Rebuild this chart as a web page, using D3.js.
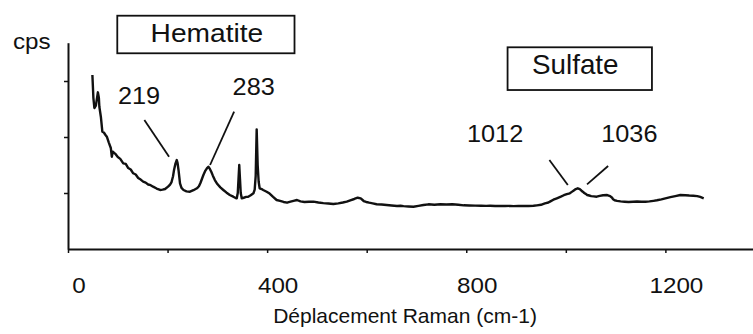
<!DOCTYPE html>
<html>
<head>
<meta charset="utf-8">
<script src="https://cdn.jsdelivr.net/npm/d3@7"></script>
<style>
  html, body { margin: 0; padding: 0; background: #fff; }
  svg { display: block; }
  text { font-family: "Liberation Sans", Arial, Helvetica, sans-serif; fill: #111; }
</style>
</head>
<body>
<svg id="chart" width="753" height="334"></svg>
<script>
// ---- data (Raman shift in cm-1, intensity in arbitrary cps units) ----
const shift = [49, 51, 53, 56, 60, 62, 63, 66, 69, 72, 75, 78, 82, 86, 88, 90, 95, 100, 105, 111, 116, 121, 126, 131, 136, 141, 146, 151, 156, 161, 166, 171, 178, 185, 190, 195, 201, 205, 208, 211, 213, 216, 218.5, 220, 222, 225, 228, 232, 238, 245, 252, 259, 263, 266, 269, 272, 276, 279, 282, 285, 288, 291, 295, 300, 306, 312, 318, 325, 332, 336, 339, 341, 342.5, 344, 345.5, 347, 349, 353, 358, 362, 367, 372.5, 375, 377, 379, 381, 383, 385, 389, 392, 399, 405, 412, 419, 426, 433, 440, 447, 453, 460, 467, 475, 484, 493, 503, 513, 523, 533, 543, 552, 560, 567, 575, 582, 588, 594, 599, 605, 612, 620, 630, 640, 650, 661, 668, 674, 684, 694, 704, 714, 724, 736, 748, 760, 772, 784, 795, 806, 818, 830, 840, 848, 858, 868, 878, 888, 895, 905, 915, 925, 935, 942, 950, 958, 965, 969, 975, 982, 990, 996, 1002, 1008, 1012, 1016, 1020, 1024, 1028, 1031, 1034, 1037, 1040, 1043, 1047, 1051, 1056, 1062, 1068, 1075, 1083, 1089, 1093, 1095, 1098, 1103, 1110, 1118, 1126, 1135, 1143, 1152, 1160, 1168, 1176, 1183, 1192, 1200, 1210, 1220, 1230, 1240, 1248, 1256, 1264, 1270, 1277, 1284, 1290, 1297, 1304];
const cps = [3107, 2700, 2518, 2560, 2798, 2700, 2541, 2362, 2095, 2080, 2040, 2005, 1900, 1804, 1648, 1738, 1700, 1643, 1610, 1530, 1520, 1446, 1420, 1352, 1330, 1268, 1240, 1202, 1185, 1152, 1140, 1113, 1080, 1054, 1060, 1071, 1113, 1150, 1196, 1300, 1411, 1530, 1589, 1540, 1411, 1173, 1090, 1054, 1030, 1023, 1050, 1084, 1120, 1179, 1250, 1321, 1400, 1440, 1470, 1430, 1375, 1310, 1232, 1160, 1100, 1054, 1010, 965, 934, 915, 905, 1000, 1250, 1500, 1250, 1000, 905, 915, 930, 934, 960, 995, 1060, 1300, 2137, 1500, 1200, 1084, 1070, 1054, 1023, 990, 930, 875, 860, 840, 827, 845, 860, 875, 850, 840, 845, 845, 830, 820, 812, 804, 815, 830, 845, 870, 893, 916, 905, 857, 840, 827, 815, 800, 795, 786, 778, 768, 772, 765, 760, 755, 770, 785, 798, 790, 800, 795, 798, 790, 780, 778, 775, 773, 770, 772, 768, 770, 768, 770, 766, 770, 768, 768, 772, 780, 790, 816, 830, 850, 880, 905, 935, 960, 980, 995, 1020, 1045, 1070, 1084, 1070, 1045, 1023, 1000, 985, 964, 955, 945, 940, 934, 948, 960, 964, 945, 915, 887, 870, 860, 850, 845, 840, 845, 848, 845, 845, 850, 860, 870, 887, 905, 925, 945, 964, 960, 955, 952, 945, 930, 905];

const xTickValues = [0, 200, 400, 600, 800, 1000, 1200];
const xTickLabels = ["0", "", "400", "", "800", "", "1200"];
const yTickValues = [1000, 2000, 3000];

const xTitle = "Déplacement Raman (cm-1)";
const yTitle = "cps";

// annotations: label text, label anchor (shift, cps), leader line from/to (shift, cps)
const annLabels = ["219", "283", "1012", "1036"];
const annLabelShift = [142.7, 373, 858, 1127.6];
const annLabelCps = [2584, 2750, 1905, 1905];
const annLineFromShift = [153.4, 333.7, 967, 1085];
const annLineFromCps = [2304, 2452, 1589, 1482];
const annLineToShift = [203, 285.4, 1004, 1042.6];
const annLineToCps = [1648, 1500, 1143, 1155];

// boxed region labels
const boxLabels = ["Hematite", "Sulfate"];
const boxShift0 = [99, 883];
const boxShift1 = [455, 1173];
const boxCpsTop = [4166, 3602];
const boxCpsBottom = [3495, 2839];
const boxTextShift = [279, 1019];
const boxTextCps = [3702, 3120];

// ---- drawing ----
const svg = d3.select("#chart");
const x = d3.scaleLinear().domain([0, 1376]).range([68, 753]);
const y = d3.scaleLinear().domain([0, 3684]).range([249, 42.7]);

function stretchedText(g, str, px, py, size, sx) {
  return g.append("text")
    .attr("transform", `translate(${px},${py}) scale(${sx},1)`)
    .attr("text-anchor", "middle")
    .style("font-size", size + "px")
    .text(str);
}

// axes
const xAxis = d3.axisBottom(x).tickValues(xTickValues).tickSize(4).tickSizeOuter(0).tickFormat(() => "");
const gx = svg.append("g").attr("transform", `translate(0,${y(0)})`).call(xAxis);
gx.select(".domain").attr("stroke", "#111").attr("stroke-width", 2);
gx.selectAll(".tick line").attr("stroke", "#111").attr("stroke-width", 1.5);

const yAxis = d3.axisLeft(y).tickValues(yTickValues).tickSize(4).tickSizeOuter(0).tickFormat(() => "");
const gy = svg.append("g").attr("transform", `translate(${x(0)},0)`).call(yAxis);
gy.select(".domain").attr("stroke", "#111").attr("stroke-width", 2);
gy.selectAll(".tick line").attr("stroke", "#111").attr("stroke-width", 1.5);

// x tick labels (shifted as in the original)
xTickValues.forEach((v, i) => {
  if (xTickLabels[i]) stretchedText(svg, xTickLabels[i], x(v) + 11, 293, 22, 1.1);
});

// titles
stretchedText(svg, xTitle, 405, 323, 21, 1.0);
stretchedText(svg, yTitle, 31.7, 49, 22, 1.1);

// spectrum
const pts = shift.map((s, i) => [s, cps[i]]);
svg.append("path")
  .datum(pts)
  .attr("fill", "none")
  .attr("stroke", "#111")
  .attr("stroke-width", 2.4)
  .attr("stroke-linejoin", "round")
  .attr("d", d3.line().x(d => x(d[0])).y(d => y(d[1])));

// annotation leader lines and labels
annLabels.forEach((t, i) => {
  svg.append("line")
    .attr("x1", x(annLineFromShift[i])).attr("y1", y(annLineFromCps[i]))
    .attr("x2", x(annLineToShift[i])).attr("y2", y(annLineToCps[i]))
    .attr("stroke", "#111").attr("stroke-width", 1.8);
  stretchedText(svg, t, x(annLabelShift[i]), y(annLabelCps[i]), 23, 1.1);
});

// boxed labels
boxLabels.forEach((t, i) => {
  svg.append("rect")
    .attr("x", x(boxShift0[i])).attr("y", y(boxCpsTop[i]))
    .attr("width", x(boxShift1[i]) - x(boxShift0[i]))
    .attr("height", y(boxCpsBottom[i]) - y(boxCpsTop[i]))
    .attr("fill", "none").attr("stroke", "#111").attr("stroke-width", 1.8);
  stretchedText(svg, t, x(boxTextShift[i]), y(boxTextCps[i]), i === 0 ? 25.6 : 27, i === 0 ? 1.1 : 1.03);
});
</script>
</body>
</html>
